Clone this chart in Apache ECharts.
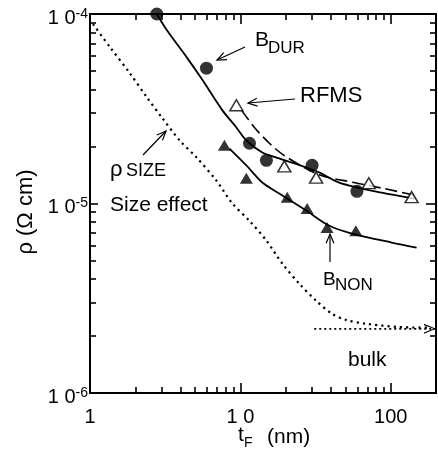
<!DOCTYPE html>
<html><head><meta charset="utf-8">
<script src="https://cdn.jsdelivr.net/npm/echarts@6/dist/echarts.min.js"></script>
<style>html,body{margin:0;padding:0;background:#fff}#c{width:438px;height:458px}</style>
</head><body><div id="c"></div>
<script>
// ---- data ----
const bdurX = [2.78, 5.95, 11.5, 14.9, 30.0, 59.6];
const bdurY = [1.0e-4, 5.18e-5, 2.08e-5, 1.69e-5, 1.59e-5, 1.16e-5];
const rfmsX = [9.41, 19.6, 31.9, 71.5, 137.7];
const rfmsY = [3.3e-5, 1.57e-5, 1.37e-5, 1.28e-5, 1.08e-5];
const bnonX = [7.83, 10.96, 20.5, 27.8, 37.7, 58.6];
const bnonY = [2.03e-5, 1.36e-5, 1.08e-5, 9.42e-6, 7.46e-6, 7.19e-6];

const bdurFitX = [2.78, 3.24, 4.39, 5.60, 7.60, 9.41, 10.96, 14.0, 18.1, 27.4, 33.4, 45.3, 87.1, 146];
const bdurFitY = [1.0e-4, 8.23e-5, 5.92e-5, 4.48e-5, 3.10e-5, 2.52e-5, 2.15e-5, 1.86e-5, 1.73e-5, 1.55e-5, 1.46e-5, 1.29e-5, 1.14e-5, 1.06e-5];
const rfmsFitX = [10.2, 12.4, 15.6, 19.6, 33.4, 56.9, 89.9, 148.6];
const rfmsFitY = [3.1e-5, 2.52e-5, 2.08e-5, 1.79e-5, 1.42e-5, 1.29e-5, 1.20e-5, 1.10e-5];
const bnonFitX = [8.46, 10.96, 14.0, 18.1, 27.4, 38.8, 55.2, 101.6, 148.6];
const bnonFitY = [1.95e-5, 1.59e-5, 1.29e-5, 1.13e-5, 9.18e-6, 7.65e-6, 6.94e-6, 6.22e-6, 5.85e-6];
const sizeX = [1.047, 1.357, 1.84, 2.385, 3.0, 3.95, 5.11, 6.93, 8.85, 11.5, 14.9, 19.0, 24.6, 31.9, 40.6, 50.4, 68.3, 113, 178.6];
const sizeY = [8.85e-5, 6.69e-5, 4.87e-5, 3.64e-5, 2.85e-5, 2.15e-5, 1.75e-5, 1.32e-5, 1.0e-5, 8.1e-6, 6.37e-6, 4.82e-6, 3.78e-6, 3.07e-6, 2.62e-6, 2.43e-6, 2.32e-6, 2.23e-6, 2.21e-6];
const bulkX = [31.0, 200];
const bulkY = [2.18e-6, 2.18e-6];

const xMajorTicks = [1, 10, 100];
const xMinorTicks = [2,3,4,5,6,7,8,9,20,30,40,50,60,70,80,90];
const yMajorTicks = [1e-6, 1e-5, 1e-4];
const yMinorTicks = [2e-6,3e-6,4e-6,5e-6,6e-6,7e-6,8e-6,9e-6,2e-5,3e-5,4e-5,5e-5,6e-5,7e-5,8e-5,9e-5];
const xLabels = {'0':'1','1':'1 0','2':'100'};

const X_MIN = 1, X_MAX = 200, Y_MIN = 1e-6, Y_MAX = 1e-4;
const FONT = 'Liberation Sans, Arial, Helvetica, sans-serif';
const zip = (a, b) => a.map((v, i) => [v, b[i]]);
const isMajor = v => Math.abs(Math.log10(v) - Math.round(Math.log10(v))) < 1e-6;

const chart = echarts.init(document.getElementById('c'), null, {renderer: 'canvas'});

function arrow(x1, y1, x2, y2) {
  const a = Math.atan2(y2 - y1, x2 - x1), L = 10, w = 0.4;
  const p1 = [x2 - L * Math.cos(a - w), y2 - L * Math.sin(a - w)];
  const p2 = [x2 - L * Math.cos(a + w), y2 - L * Math.sin(a + w)];
  return [
    {type: 'line', shape: {x1: x1, y1: y1, x2: x2, y2: y2}, style: {stroke: '#000', lineWidth: 1.2}},
    {type: 'polyline', shape: {points: [p1, [x2, y2], p2]}, style: {stroke: '#000', lineWidth: 1.2, fill: null}}
  ];
}
function txt(x, y, s, size) {
  return {type: 'text', x: x, y: y, style: {text: s, fontSize: size, fontFamily: FONT, fill: '#000', align: 'left', verticalAlign: 'middle'}};
}

// an axis that only draws inward ticks at the given values
function tickAxis(isX, pos, values, len, withLabels) {
  const ax = {
    type: 'log', logBase: 10, position: pos,
    min: isX ? X_MIN : Y_MIN, max: isX ? X_MAX : Y_MAX,
    axisLine: {show: false}, splitLine: {show: false}, minorTick: {show: false},
    axisTick: {show: true, inside: true, length: len, customValues: values,
      lineStyle: {color: '#000', width: 1.6}},
    axisLabel: {show: false}
  };
  if (withLabels) ax.axisLabel = withLabels;
  return ax;
}

const xLabelOpt = {
  show: true, margin: 14, color: '#000', fontSize: 20, fontFamily: FONT,
  formatter: v => isMajor(v) ? (xLabels[String(Math.round(Math.log10(v)))] || '') : ''
};
const yLabelOpt = {
  show: true, margin: 2, color: '#000',
  formatter: v => '{a|1 0}{s|' + Math.round(Math.log10(v)) + '}',
  rich: {
    a: {fontSize: 20, fontFamily: FONT, color: '#000', padding: [8, 0, 0, 0]},
    s: {fontSize: 14, fontFamily: FONT, color: '#000'}
  }
};

const chevron = 'path://M0,0 L12,5 L0,10 L0,8.6 L9.6,5 L0,1.4 Z';

const option = {
  animation: false,
  backgroundColor: '#fff',
  grid: {left: 90, top: 14, right: 2, bottom: 65, containLabel: false, outerBoundsMode: 'none',
    show: true, borderColor: '#000', borderWidth: 2},
  xAxis: [
    tickAxis(true, 'bottom', xMajorTicks, 10, xLabelOpt),
    tickAxis(true, 'bottom', xMinorTicks, 6),
    tickAxis(true, 'top', xMajorTicks, 10),
    tickAxis(true, 'top', xMinorTicks, 6)
  ],
  yAxis: [
    tickAxis(false, 'left', yMajorTicks, 8, yLabelOpt),
    tickAxis(false, 'left', yMinorTicks, 6),
    tickAxis(false, 'right', yMajorTicks, 10),
    tickAxis(false, 'right', yMinorTicks, 6)
  ],
  series: [
    {name: 'size', type: 'line', data: zip(sizeX, sizeY), symbol: 'none', smooth: 0.3, clip: false,
      lineStyle: {color: '#000', width: 2.2, type: [2.2, 4]}, z: 2},
    {name: 'bulk', type: 'line', clip: false, z: 2,
      data: bulkX.map((x, i) => i === bulkX.length - 1
        ? {value: [x, bulkY[i]], symbol: chevron, symbolSize: [12, 10], symbolOffset: [-6, 0]}
        : {value: [x, bulkY[i]], symbol: 'none'}),
      symbol: 'none', itemStyle: {color: '#000'},
      lineStyle: {color: '#000', width: 1.6, type: [2, 3]}},
    {name: 'bdurFit', type: 'line', data: zip(bdurFitX, bdurFitY), symbol: 'none', smooth: 0.3, clip: false,
      lineStyle: {color: '#000', width: 1.8}, z: 3},
    {name: 'rfmsFit', type: 'line', data: zip(rfmsFitX, rfmsFitY), symbol: 'none', smooth: 0.3, clip: false,
      lineStyle: {color: '#000', width: 1.6, type: [12, 5]}, z: 3},
    {name: 'bnonFit', type: 'line', data: zip(bnonFitX, bnonFitY), symbol: 'none', smooth: 0.3, clip: false,
      lineStyle: {color: '#000', width: 1.8}, z: 3},
    {name: 'B_DUR', type: 'scatter', data: zip(bdurX, bdurY), symbol: 'circle', symbolSize: 13, clip: false,
      itemStyle: {color: '#000'}, z: 4},
    {name: 'RFMS', type: 'scatter', data: zip(rfmsX, rfmsY), symbol: 'triangle', symbolSize: [13, 11], clip: false,
      itemStyle: {color: '#fff', borderColor: '#000', borderWidth: 1.5}, z: 4},
    {name: 'B_NON', type: 'scatter', data: zip(bnonX, bnonY), symbol: 'triangle', symbolSize: [13, 11], clip: false,
      itemStyle: {color: '#000'}, z: 4}
  ],
  graphic: [].concat(
    arrow(245, 47, 217, 60),
    arrow(295, 99, 248, 103),
    arrow(143, 155, 166, 131),
    arrow(330, 262, 330, 234),
    [
      txt(255, 40.5, 'B', 21),
      txt(268, 48.5, 'DUR', 17),
      txt(300, 95.5, 'RFMS', 22),
      txt(110, 170, 'ρ', 22),
      txt(126, 171.5, 'SIZE', 18),
      txt(110, 205.5, 'Size effect', 21),
      txt(323, 279.5, 'B', 19),
      txt(335, 285.5, 'NON', 17),
      txt(348, 360, 'bulk', 21),
      txt(238, 435.5, 't', 21),
      txt(244, 443, 'F', 14),
      txt(267, 437, '(nm)', 21),
      {type: 'text', x: 26, y: 212, rotation: Math.PI / 2,
        style: {text: 'ρ (Ω cm)', fontSize: 22, fontFamily: FONT, fill: '#000', align: 'center', verticalAlign: 'middle'}}
    ]
  )
};
chart.setOption(option);
</script>
</body></html>
